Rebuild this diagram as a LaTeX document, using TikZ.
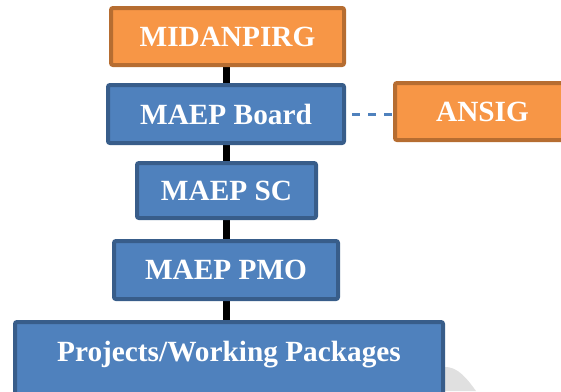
\documentclass[tikz,border=0pt]{standalone}
\usepackage{fontspec}
\setmainfont{Liberation Serif}
\usepackage{xcolor}
\usetikzlibrary{positioning}
\usetikzlibrary{backgrounds}

\definecolor{orgfill}{HTML}{F79646}
\definecolor{orgline}{HTML}{B66D31}
\definecolor{bluefill}{HTML}{4F81BD}
\definecolor{blueline}{HTML}{385D8A}

\begin{document}
\begin{tikzpicture}[x=1pt, y=-1pt,
        box/.style={draw, line width=4pt, rounded corners=2pt, text=white,
            font=\fontsize{29.3}{33}\selectfont\bfseries, inner sep=0pt},
        orgbox/.style={box, draw=orgline, fill=orgfill},
        bluebox/.style={box, draw=blueline, fill=bluefill}]
        \useasboundingbox (0, 0) rectangle (561, 391);

        \node[orgbox, minimum width=233pt, minimum height=57pt] (midan) at (227.5, 36.5) {MIDANPIRG};
        \node[bluebox, minimum width=236pt, minimum height=58pt] (board) at (226, 114) {MAEP Board};
        \node[orgbox, minimum width=175pt, minimum height=57pt] (ansig) at (482.5, 111.5) {ANSIG};
        \node[bluebox, minimum width=179pt, minimum height=55pt] (sc) at (226.5, 190.5) {MAEP SC};
        \node[bluebox, minimum width=224pt, minimum height=58pt] (pmo) at (226, 270) {MAEP PMO};
        \node[bluebox, minimum width=428pt, anchor=north, inner ysep=20pt,
            text height=19pt, text depth=60pt] (proj) at (229, 320) {Projects/Working Packages};

        \coordinate (bar) at (226.5, 0);
        \begin{scope}[on background layer]
            \fill[black!12] (444, 367) .. controls (458, 366) and (468, 380) .. (476, 391) -- (444, 391) -- cycle;
            \draw[line width=7pt] (midan.south -| bar) -- (proj.north -| bar);
        \end{scope}

        \draw[bluefill, line width=3pt, dash pattern=on 8pt off 8pt, shorten <=6pt]
            (board.east) -- (board.east -| ansig.west);
    \end{tikzpicture}
\end{document}
